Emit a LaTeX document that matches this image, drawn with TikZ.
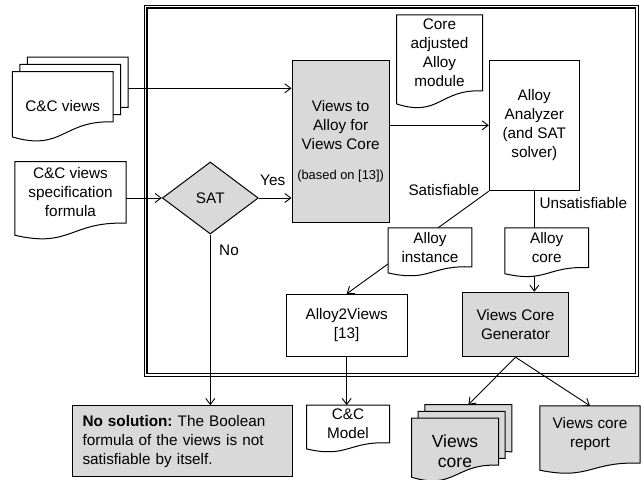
\documentclass[tikz,border=0pt]{standalone}
\usepackage{fontspec}
\setmainfont{Liberation Sans}
\usetikzlibrary{arrows.meta,shapes.geometric,calc}
\definecolor{boxgray}{RGB}{217,217,217}
\pgfdeclarelayer{conn}
\pgfdeclarelayer{docs}
\pgfsetlayers{conn,docs,main}
\frenchspacing
% document outline: #1 node name, #2 fill, #3 drop of left end below node south (pt)
\newcommand\docoutline[3]{%
  \path[draw, line width=1pt, fill=#2] let \p1=(#1.north west), \p2=(#1.south east), \n1={\x2-\x1} in
    (\p1) -- (\x2,\y1) -- (\p2) .. controls (\x1+0.5*\n1,\y2+2pt) and (\x1+0.5*\n1,\y2-1.6*#3pt-6pt) .. (\x1,\y2-#3pt) -- cycle;}
\begin{document}
\begin{tikzpicture}[x=1pt,y=-1pt,
  >={Straight Barb[length=6pt,width=9pt]},
  every node/.style={font=\fontsize{15.3}{19}\selectfont, align=center, inner sep=0pt},
  procbox/.style={draw, line width=1pt, fill=white},
  graybox/.style={draw, line width=1pt, fill=boxgray},
  docnode/.style={},
  conn/.style={line width=0.9pt},
  arr/.style={line width=0.9pt, ->},
  bigtext/.style={font=\fontsize{17.5}{19.5}\selectfont},
  smalltext/.style={font=\fontsize{12.9}{15}\selectfont}]
\useasboundingbox (0,0) rectangle (644,479);

% process boxes
\node[graybox, minimum width=97.3pt, minimum height=162.7pt] (va) at (340.65,141.35)
  {Views to\\Alloy for\\Views Core\\[11pt]{\fontsize{12.9}{15}\selectfont (based on [13])}};
\node[procbox, minimum width=90pt, minimum height=130.7pt] (aa) at (534.3,125.35)
  {Alloy\\Analyzer\\(and SAT\\solver)};
\node[procbox, minimum width=121.3pt, minimum height=61.7pt] (a2v) at (346.65,325.15)
  {Alloy2Views\\{}[13]};
\node[graybox, minimum width=105.6pt, minimum height=64.4pt] (vcg) at (515.5,324.5)
  {Views Core\\Generator};
\node[graybox, minimum width=219.6pt, minimum height=71pt, text width=200pt, align=left] (nosol) at (182.5,441.2)
  {\textbf{No solution:} The Boolean\\formula of the views is not\\satisfiable by itself.};
\node[diamond, draw, line width=1pt, fill=boxgray, minimum width=96pt, minimum height=72pt] (sat) at (210.3,198) {SAT};

% document nodes
\node[docnode, minimum width=100.5pt, minimum height=50pt] (cv3) at (77.75,82.3) {};
\node[docnode, minimum width=100.5pt, minimum height=50pt] (cv2) at (70.25,89.5) {};
\node[docnode, minimum width=100.5pt, minimum height=50pt] (cv1) at (62.75,96.7) {};
\node (cvtext) at (62.75,106) {C\&C views};
\node[docnode, minimum width=111pt, minimum height=61.3pt] (spec) at (70.5,192.35)
  {C\&C views\\specification\\formula};
\node[docnode, minimum width=85.6pt, minimum height=75.7pt] (cam) at (439.5,52.85)
  {Core\\adjusted\\Alloy\\module};
\node[docnode, minimum width=83.4pt, minimum height=38.7pt] (ainst) at (430,247.35)
  {Alloy\\instance};
\node[docnode, minimum width=83.3pt, minimum height=39.5pt] (acore) at (546.65,247.75)
  {Alloy\\core};
\node[docnode, minimum width=82.6pt, minimum height=37.4pt] (ccm) at (348,424)
  {C\&C\\Model};
\node[docnode, minimum width=86.6pt, minimum height=46.7pt] (vc3) at (468.4,428.25) {};
\node[docnode, minimum width=86.6pt, minimum height=46.7pt] (vc2) at (461.7,434.95) {};
\node[docnode, minimum width=86.6pt, minimum height=46.7pt] (vc1) at (455,441.65) {};
\node[bigtext] (vctext) at (455,451) {Views\\core};
\node[docnode, minimum width=100pt, minimum height=57pt] (rep) at (590,434.5)
  {Views core\\report};

% labels
\node (yes) at (272.7,180) {Yes};
\node (no) at (229,250) {No};
\node (satl) at (443.8,190) {Satisfiable};
\node (unsatl) at (583.3,202.7) {Unsatisfiable};

\begin{pgfonlayer}{docs}
\docoutline{cv3}{white}{15}
\docoutline{cv2}{white}{15}
\docoutline{cv1}{white}{15}
\docoutline{spec}{white}{12}
\docoutline{cam}{white}{13}
\docoutline{ainst}{white}{6}
\docoutline{acore}{white}{6}
\docoutline{ccm}{white}{6}
\docoutline{vc3}{boxgray}{12}
\docoutline{vc2}{boxgray}{12}
\docoutline{vc1}{boxgray}{12}
\docoutline{rep}{boxgray}{7}
\end{pgfonlayer}

\begin{pgfonlayer}{conn}
\draw[double, double distance=1.8pt, line width=1.1pt] (145.5,6.5) rectangle (636.65,375);
\coordinate (cvout) at ([yshift=-6pt]cv3.east);
\draw[arr] (cvout) -- (cvout -| va.west);
\draw[arr] (spec.east |- sat.west) -- (sat.west);
\draw[arr] (sat.east) -- (sat.east -| va.west);
\draw[arr] (sat.south) -- (sat.south |- nosol.north);
\draw[arr] (aa.west -| va.east) -- (aa.west);
\draw[arr] (aa.south west) -- (a2v.north);
\draw[arr] (aa.south) -- (aa.south |- vcg.north);
\draw[arr] (a2v.south) -- (a2v.south |- ccm.north);
\draw[arr] (vcg.south) -- (vc3.north);
\draw[arr] (vcg.south) -- (rep.north);
\end{pgfonlayer}
\end{tikzpicture}
\end{document}
